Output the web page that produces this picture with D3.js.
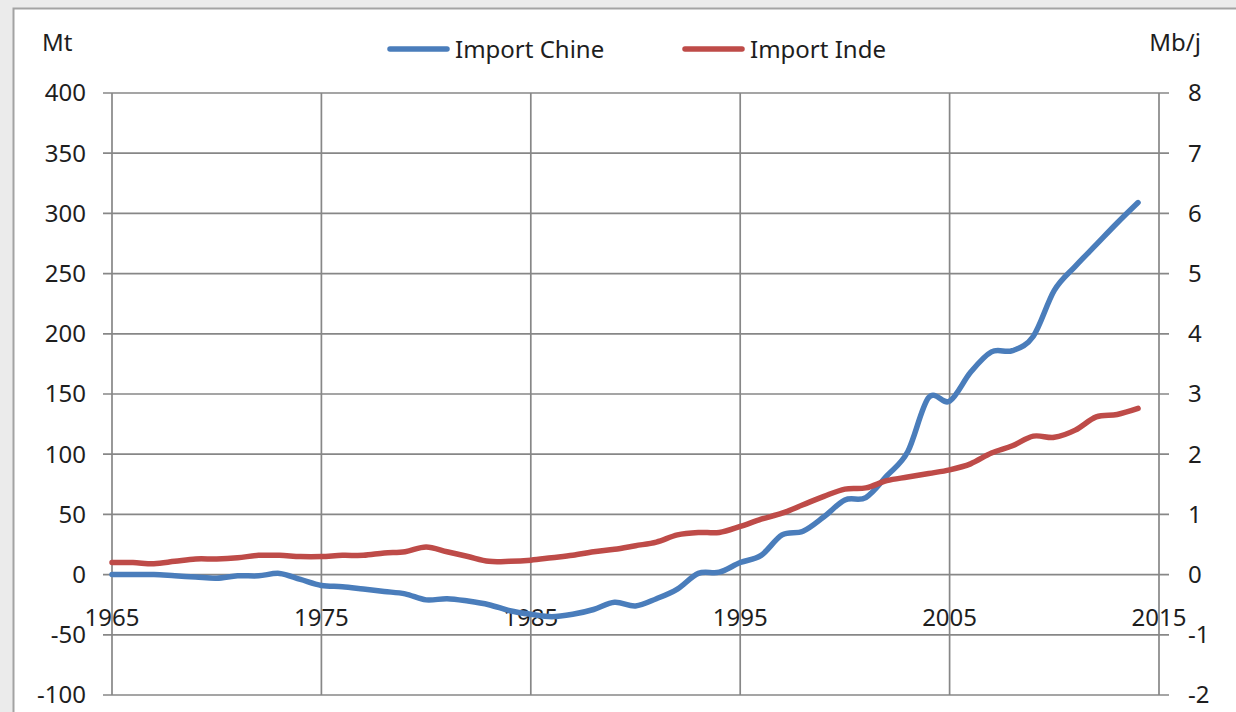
<!DOCTYPE html>
<html>
<head>
<meta charset="utf-8">
<script src="https://cdn.jsdelivr.net/npm/d3@7"></script>
<style>
  body { margin: 0; background: #ebebeb; }
  text { font-family: "Noto Sans", sans-serif; fill: #1e1e1e; }
</style>
</head>
<body>
<script>
var years = d3.range(1965, 2015);
var chinaImport = [0, 0, 0, -1, -2, -3, -1, -1, 1, -4,
                   -9, -10, -12, -14, -16, -21, -20, -22, -25, -30,
                   -33, -35, -33, -29, -23, -26, -20, -12, 1, 2,
                   10, 16, 33, 36, 48, 62, 64, 82, 102, 147,
                   144, 168, 185, 186, 198, 236, 256, 274, 292, 309];
var indiaImport = [10, 10, 9, 11, 13, 13, 14, 16, 16, 15,
                   15, 16, 16, 18, 19, 23, 19, 15, 11, 11,
                   12, 14, 16, 19, 21, 24, 27, 33, 35, 35,
                   40, 46, 51, 58, 65, 71, 72, 78, 81, 84,
                   87, 92, 101, 107, 115, 114, 120, 131, 133, 138];
var leftTicks = [-100, -50, 0, 50, 100, 150, 200, 250, 300, 350, 400];
var rightTicks = [-2, -1, 0, 1, 2, 3, 4, 5, 6, 7, 8];
var yearTicks = [1965, 1975, 1985, 1995, 2005, 2015];
var seriesNames = ["Import Chine", "Import Inde"];
var seriesColors = ["#4a7dbb", "#be4b48"];

var W = 1236, H = 712;
var margin = {top: 93, right: 77, bottom: 17, left: 112},
    width = W - margin.left - margin.right,
    height = H - margin.top - margin.bottom;

var svg = d3.select("body").append("svg")
    .attr("width", W)
    .attr("height", H);

// chart frame
svg.append("rect")
    .attr("x", 13.5).attr("y", 8.5)
    .attr("width", W).attr("height", H)
    .attr("fill", "#fff")
    .attr("stroke", "#a3a3a3")
    .attr("stroke-width", 2);

var g = svg.append("g")
    .attr("transform", "translate(" + margin.left + "," + margin.top + ")");

var x = d3.scaleLinear().domain([1965, 2015]).range([0, width]);
var y = d3.scaleLinear().domain([-100, 400]).range([height, 0]);
var y2 = d3.scaleLinear().domain([-2, 8]).range([height, 0]);

var gridColor = "#878787";

// horizontal gridlines with ticks on both sides
g.selectAll(".hgrid")
  .data(leftTicks)
  .enter().append("line")
    .attr("x1", -9).attr("x2", width + 10)
    .attr("y1", function(d){ return y(d); })
    .attr("y2", function(d){ return y(d); })
    .attr("stroke", gridColor)
    .attr("stroke-width", 1.7);

// vertical gridlines
g.selectAll(".vgrid")
  .data(yearTicks)
  .enter().append("line")
    .attr("x1", function(d){ return x(d); })
    .attr("x2", function(d){ return x(d); })
    .attr("y1", 0).attr("y2", height)
    .attr("stroke", gridColor)
    .attr("stroke-width", 1.7);

// left axis labels
g.selectAll(".ylab")
  .data(leftTicks)
  .enter().append("text")
    .attr("x", -26)
    .attr("y", function(d){ return y(d); })
    .attr("dy", "0.35em")
    .attr("text-anchor", "end")
    .style("font-size", "24px")
    .text(function(d){ return d; });

// right axis labels
g.selectAll(".y2lab")
  .data(rightTicks)
  .enter().append("text")
    .attr("x", width + 29)
    .attr("y", function(d){ return y2(d); })
    .attr("dy", "0.35em")
    .attr("text-anchor", "start")
    .style("font-size", "24px")
    .text(function(d){ return d; });

// year labels just below zero line
g.selectAll(".xlab")
  .data(yearTicks)
  .enter().append("text")
    .attr("x", function(d){ return x(d); })
    .attr("y", y(0) + 51)
    .attr("text-anchor", "middle")
    .style("font-size", "24px")
    .text(function(d){ return d; });

// axis titles
svg.append("text").attr("x", 42).attr("y", 51)
    .style("font-size", "24px").text("Mt");
svg.append("text").attr("x", 1201).attr("y", 51)
    .attr("text-anchor", "end")
    .style("font-size", "24px").text("Mb/j");

var line = d3.line()
    .x(function(d){ return x(d[0]); })
    .y(function(d){ return y(d[1]); })
    .curve(d3.curveCatmullRom.alpha(0));

[chinaImport, indiaImport].forEach(function(vals, k){
  g.append("path")
    .datum(years.map(function(yr, i){ return [yr, vals[i]]; }))
    .attr("fill", "none")
    .attr("stroke", seriesColors[k])
    .attr("stroke-width", 5.5)
    .attr("stroke-linecap", "round")
    .attr("stroke-linejoin", "round")
    .attr("d", line);
});

// legend
var legX = [390, 685];
seriesNames.forEach(function(name, k){
  svg.append("line")
    .attr("x1", legX[k]).attr("x2", legX[k] + 57)
    .attr("y1", 49).attr("y2", 49)
    .attr("stroke", seriesColors[k])
    .attr("stroke-width", 5.5)
    .attr("stroke-linecap", "round");
  svg.append("text")
    .attr("x", legX[k] + 65).attr("y", 58)
    .style("font-size", "24px")
    .text(name);
});
</script>
</body>
</html>
